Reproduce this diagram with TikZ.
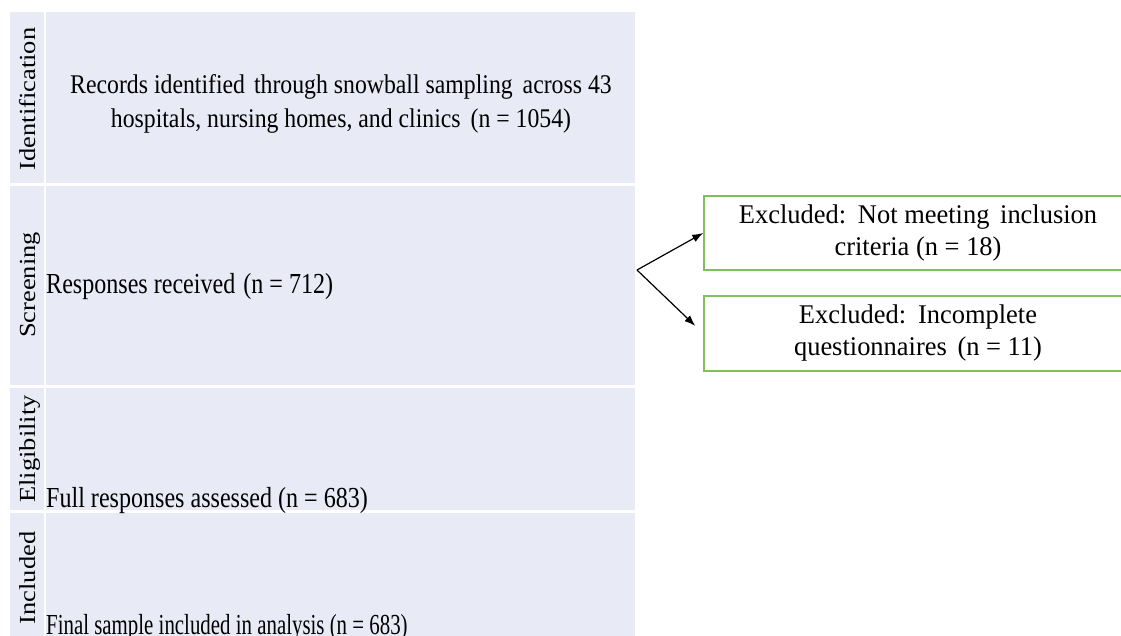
\documentclass[tikz,border=0pt]{standalone}
\usepackage{fontspec}
\setmainfont{Liberation Serif}
\newfontfamily\fnarrow[FakeStretch=0.83]{Liberation Serif}
\newfontfamily\ffinal[FakeStretch=0.72]{Liberation Serif}
\newfontfamily\frecords[FakeStretch=0.88]{Liberation Serif}
\newfontfamily\fexcl[FakeStretch=0.98]{Liberation Serif}
\newfontfamily\flabel[FakeStretch=1.15]{Liberation Serif}
\usetikzlibrary{arrows.meta}
\definecolor{panel}{RGB}{232,234,245}
\definecolor{exgreen}{RGB}{128,192,88}
\begin{document}
\begin{tikzpicture}[x=1pt,y=-1pt,
  phase/.style={rotate=90, anchor=base, inner sep=0pt, font=\flabel\fontsize{23}{26}\selectfont},
  stage/.style={anchor=base west, inner sep=0pt, font=\fnarrow\fontsize{29}{33}\selectfont},
  excl/.style={draw=exgreen, line width=1.5pt, minimum width=428pt, align=center, inner sep=0pt, font=\fexcl\fontsize{27}{32}\selectfont},
  arr/.style={-{Latex[length=11pt,width=8pt]}, line width=1.2pt}]
\clip (0,0) rectangle (1121,636);
\fill[white] (0,0) rectangle (1121,636);
% panel cells
\fill[panel] (10,12) rectangle (44,183);
\fill[panel] (46,12) rectangle (635,183);
\fill[panel] (10,186) rectangle (44,385);
\fill[panel] (46,186) rectangle (635,385);
\fill[panel] (10,388) rectangle (44,510);
\fill[panel] (46,388) rectangle (635,510);
\fill[panel] (10,513) rectangle (44,645);
\fill[panel] (46,513) rectangle (635,645);
% phase labels
\node[phase] (lid) at (35,99) {Identification};
\node[phase] (lsc) at (35,285) {Screening};
\node[phase] (lel) at (35,449) {Eligibility};
\node[phase] (lin) at (35,578) {Included};
% stage texts
\node[align=center, inner sep=0pt, font=\frecords\fontsize{27}{34}\selectfont] (rec) at (341,104)
  {Records identified\hspace{3pt} through snowball sampling\hspace{4pt} across 43\\
   hospitals, nursing homes, and clinics\hspace{4pt} (n = 1054)};
\node[stage] (resp) at (46,293) {Responses received\hspace{2pt} (n = 712)};
\node[stage] (full) at (46,507) {Full responses assessed (n = 683)};
\node[stage, font=\ffinal\fontsize{29}{33}\selectfont] (fin) at (46,634) {Final sample included in analysis (n = 683)};
% exclusion boxes
\node[excl, minimum height=74pt] (ex1) at (918,233)
  {Excluded:\hspace{3pt} Not meeting\hspace{4pt} inclusion\\ criteria (n = 18)};
\node[excl, minimum height=75pt] (ex2) at (918,333.5)
  {Excluded:\hspace{3pt} Incomplete\\ questionnaires\hspace{4pt} (n = 11)};
% arrows
\coordinate (split) at (637,270);
\draw[arr] (split) -- (ex1.west);
\draw[arr, shorten >=11pt] (split) -- (ex2.west);
\end{tikzpicture}
\end{document}
